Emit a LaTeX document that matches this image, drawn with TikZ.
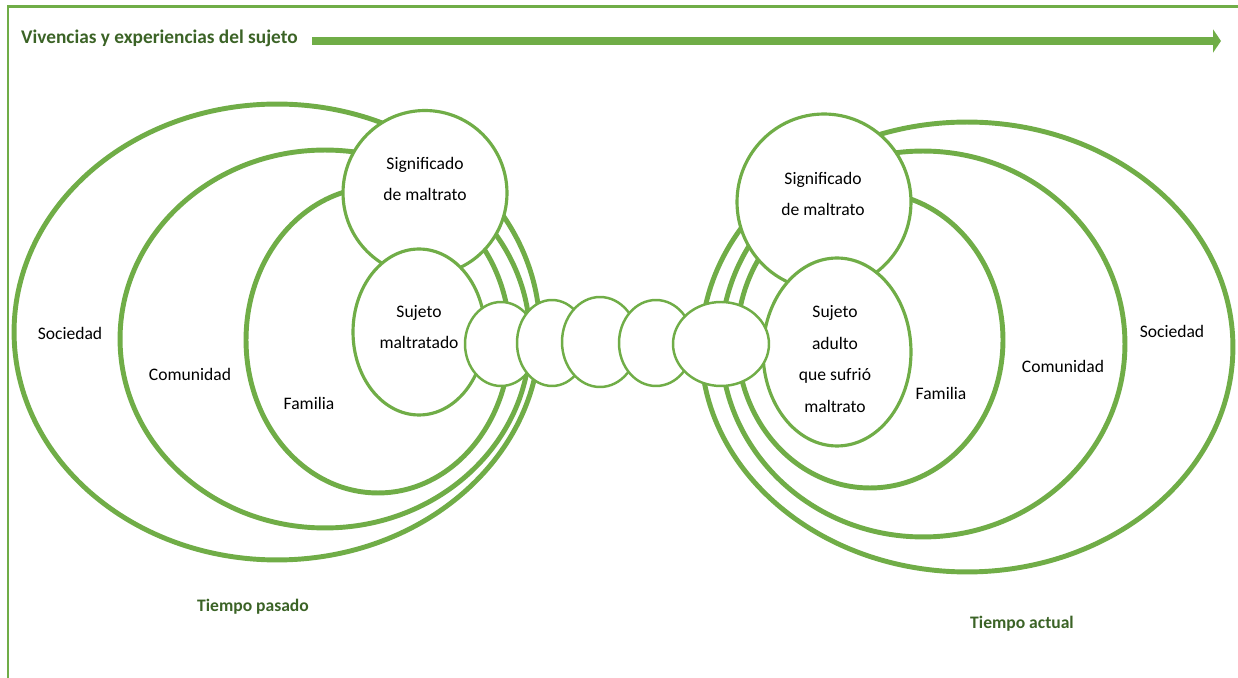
\documentclass[tikz,border=0pt]{standalone}
\usepackage{fontspec}
\setmainfont{Carlito}
\usetikzlibrary{shapes.geometric,arrows.meta}
\definecolor{leaf}{HTML}{70AD47}
\definecolor{darkleaf}{HTML}{3B6326}

\begin{document}
\begin{tikzpicture}[x=0.02cm, y=-0.02cm,
        ring/.style={ellipse, draw=leaf, line width=2.8pt, fill=white, inner sep=0pt},
        core/.style={ellipse, draw=leaf, line width=1.8pt, fill=white, inner sep=0pt},
        link/.style={ellipse, draw=leaf, line width=1.4pt, fill=white, inner sep=0pt},
        txt/.style={align=center, font=\fontsize{10}{18}\selectfont},
        tag/.style={text=darkleaf, font=\fontsize{10}{12}\selectfont\bfseries}
    ]
        \useasboundingbox (0,0) rectangle (1238,678);

        % Frame
        \draw[leaf, line width=1.7pt] (8,678) -- (8,7) -- (1238,7);

        % Title and time arrow
        \node[tag, font=\fontsize{11}{13}\selectfont\bfseries, anchor=west] (title) at (15,38) {Vivencias y experiencias del sujeto};
        \coordinate (tail) at (312,41);
        \coordinate (tip) at (1221,41);
        \draw[leaf, line width=4pt, -{Triangle[length=4.5pt, width=13pt]}] (tail) -- (tip);

        % Past
        \node[ring, minimum width=10.52cm, minimum height=9.12cm] (socL) at (277,332) {};
        \node[ring, minimum width=8.2cm, minimum height=7.56cm] (comL) at (325,339) {};
        \node[ring, minimum width=5.28cm, minimum height=6.12cm] (famL) at (378,340) {};

        % Present
        \node[ring, minimum width=10.64cm, minimum height=9cm] (socR) at (967,347) {};
        \node[ring, minimum width=8.08cm, minimum height=7.72cm] (comR) at (923,344) {};
        \node[ring, minimum width=5.32cm, minimum height=5.92cm] (famR) at (870,340) {};

        % Meaning and subject
        \node[core, minimum width=3.28cm, minimum height=3.3cm] (sigL) at (425,193) {};
        \node[core, minimum width=3.48cm, minimum height=3.52cm] (sigR) at (824,202) {};
        \node[core, minimum width=2.64cm, minimum height=3.32cm] (sujL) at (419,332) {};
        \node[core, minimum width=2.96cm, minimum height=3.76cm] (sujR) at (837,352) {};

        % Chain between both times
        \node[link, minimum width=1.44cm, minimum height=1.68cm] (e1) at (501,344) {};
        \node[link, minimum width=1.4cm, minimum height=1.72cm] (e2) at (552,343) {};
        \node[link, minimum width=1.52cm, minimum height=1.8cm] (e3) at (600,342) {};
        \node[link, minimum width=1.48cm, minimum height=1.72cm] (e4) at (656,343) {};
        \node[link, minimum width=1.92cm, minimum height=1.68cm] (e5) at (721,344) {};

        % Labels
        \node[txt] (sigLt) at (425,179) {Significado\\de maltrato};
        \node[txt] (sujLt) at (419,327) {Sujeto\\maltratado};
        \node[txt] (famLt) at (309,403) {Familia};
        \node[txt] (comLt) at (190,374) {Comunidad};
        \node[txt] (socLt) at (70,333) {Sociedad};

        \node[txt] (sigRt) at (823,194) {Significado\\de maltrato};
        \node[txt] (sujRt) at (835,359) {Sujeto\\adulto\\que sufrió\\maltrato};
        \node[txt] (famRt) at (941,393) {Familia};
        \node[txt] (comRt) at (1063,366) {Comunidad};
        \node[txt] (socRt) at (1172,331) {Sociedad};

        \node[tag] (past) at (253,607) {Tiempo pasado};
        \node[tag] (now) at (1022,624) {Tiempo actual};

    \end{tikzpicture}
\end{document}
